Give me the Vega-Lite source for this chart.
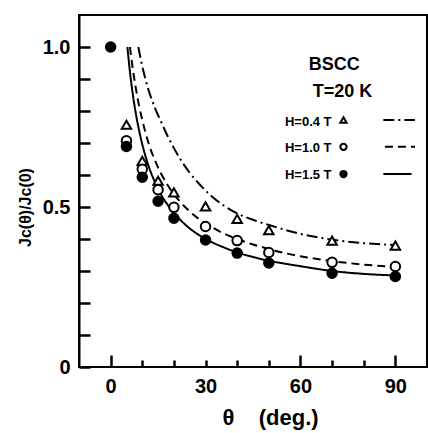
{
  "$schema": "https://vega.github.io/schema/vega-lite/v6.json",
  "width": 348,
  "height": 352,
  "autosize": {"type": "none"},
  "padding": {"left": 79, "top": 15, "right": 1, "bottom": 66},
  "background": "white",
  "config": {
    "view": {"stroke": "black", "strokeWidth": 2},
    "font": "Liberation Sans",
    "axis": {
      "grid": false,
      "ticks": true,
      "domainColor": "black",
      "domainWidth": 2,
      "tickColor": "black",
      "tickWidth": 2.5,
      "labelColor": "black",
      "titleColor": "black",
      "labelFont": "Liberation Sans",
      "titleFont": "Liberation Sans",
      "labelFontWeight": "bold",
      "titleFontWeight": "bold",
      "zindex": 1
    }
  },
  "resolve": {"axis": {"x": "independent"}},
  "datasets": {
    "curves": [
      {"x": 8.75, "y": 1.0, "s": "0.4"}, {"x": 10, "y": 0.94, "s": "0.4"}, {"x": 12, "y": 0.865, "s": "0.4"}, {"x": 14, "y": 0.81, "s": "0.4"}, {"x": 16, "y": 0.765, "s": "0.4"}, {"x": 18, "y": 0.722, "s": "0.4"}, {"x": 20, "y": 0.684, "s": "0.4"}, {"x": 22, "y": 0.65, "s": "0.4"}, {"x": 25, "y": 0.607, "s": "0.4"}, {"x": 28, "y": 0.572, "s": "0.4"}, {"x": 32, "y": 0.533, "s": "0.4"}, {"x": 36, "y": 0.503, "s": "0.4"}, {"x": 40, "y": 0.48, "s": "0.4"}, {"x": 45, "y": 0.46, "s": "0.4"}, {"x": 50, "y": 0.444, "s": "0.4"}, {"x": 55, "y": 0.429, "s": "0.4"}, {"x": 60, "y": 0.416, "s": "0.4"}, {"x": 70, "y": 0.398, "s": "0.4"}, {"x": 80, "y": 0.387, "s": "0.4"}, {"x": 90, "y": 0.381, "s": "0.4"},
      {"x": 6.1, "y": 1.0, "s": "1.0"}, {"x": 7, "y": 0.932, "s": "1.0"}, {"x": 8, "y": 0.869, "s": "1.0"}, {"x": 9, "y": 0.816, "s": "1.0"}, {"x": 10, "y": 0.772, "s": "1.0"}, {"x": 12, "y": 0.699, "s": "1.0"}, {"x": 14, "y": 0.646, "s": "1.0"}, {"x": 16, "y": 0.603, "s": "1.0"}, {"x": 18, "y": 0.569, "s": "1.0"}, {"x": 20, "y": 0.54, "s": "1.0"}, {"x": 22, "y": 0.516, "s": "1.0"}, {"x": 25, "y": 0.486, "s": "1.0"}, {"x": 28, "y": 0.462, "s": "1.0"}, {"x": 32, "y": 0.437, "s": "1.0"}, {"x": 36, "y": 0.416, "s": "1.0"}, {"x": 40, "y": 0.4, "s": "1.0"}, {"x": 45, "y": 0.383, "s": "1.0"}, {"x": 50, "y": 0.369, "s": "1.0"}, {"x": 55, "y": 0.356, "s": "1.0"}, {"x": 60, "y": 0.346, "s": "1.0"}, {"x": 70, "y": 0.331, "s": "1.0"}, {"x": 80, "y": 0.32, "s": "1.0"}, {"x": 90, "y": 0.313, "s": "1.0"},
      {"x": 5.3, "y": 1.0, "s": "1.5"}, {"x": 6, "y": 0.932, "s": "1.5"}, {"x": 7, "y": 0.853, "s": "1.5"}, {"x": 8, "y": 0.79, "s": "1.5"}, {"x": 9, "y": 0.739, "s": "1.5"}, {"x": 10, "y": 0.696, "s": "1.5"}, {"x": 12, "y": 0.628, "s": "1.5"}, {"x": 14, "y": 0.578, "s": "1.5"}, {"x": 16, "y": 0.538, "s": "1.5"}, {"x": 18, "y": 0.507, "s": "1.5"}, {"x": 20, "y": 0.481, "s": "1.5"}, {"x": 22, "y": 0.46, "s": "1.5"}, {"x": 25, "y": 0.433, "s": "1.5"}, {"x": 28, "y": 0.412, "s": "1.5"}, {"x": 32, "y": 0.39, "s": "1.5"}, {"x": 36, "y": 0.373, "s": "1.5"}, {"x": 40, "y": 0.358, "s": "1.5"}, {"x": 45, "y": 0.344, "s": "1.5"}, {"x": 50, "y": 0.332, "s": "1.5"}, {"x": 55, "y": 0.323, "s": "1.5"}, {"x": 60, "y": 0.315, "s": "1.5"}, {"x": 70, "y": 0.3, "s": "1.5"}, {"x": 80, "y": 0.291, "s": "1.5"}, {"x": 90, "y": 0.286, "s": "1.5"}
    ],
    "points": [
      {"x": 5, "y": 0.757, "s": "0.4"}, {"x": 10, "y": 0.644, "s": "0.4"}, {"x": 15, "y": 0.582, "s": "0.4"}, {"x": 20, "y": 0.546, "s": "0.4"}, {"x": 30, "y": 0.502, "s": "0.4"}, {"x": 40, "y": 0.463, "s": "0.4"}, {"x": 50, "y": 0.428, "s": "0.4"}, {"x": 70, "y": 0.395, "s": "0.4"}, {"x": 90, "y": 0.379, "s": "0.4"},
      {"x": 5, "y": 0.707, "s": "1.0"}, {"x": 10, "y": 0.618, "s": "1.0"}, {"x": 15, "y": 0.554, "s": "1.0"}, {"x": 20, "y": 0.499, "s": "1.0"}, {"x": 30, "y": 0.439, "s": "1.0"}, {"x": 40, "y": 0.395, "s": "1.0"}, {"x": 50, "y": 0.358, "s": "1.0"}, {"x": 70, "y": 0.327, "s": "1.0"}, {"x": 90, "y": 0.314, "s": "1.0"},
      {"x": 0, "y": 1.0, "s": "1.5"}, {"x": 5, "y": 0.689, "s": "1.5"}, {"x": 10, "y": 0.593, "s": "1.5"}, {"x": 15, "y": 0.518, "s": "1.5"}, {"x": 20, "y": 0.465, "s": "1.5"}, {"x": 30, "y": 0.397, "s": "1.5"}, {"x": 40, "y": 0.356, "s": "1.5"}, {"x": 50, "y": 0.325, "s": "1.5"}, {"x": 70, "y": 0.293, "s": "1.5"}, {"x": 90, "y": 0.283, "s": "1.5"}
    ],
    "legendSymbols": [
      {"x": 73.6, "y": 0.772, "s": "0.4"},
      {"x": 73.6, "y": 0.688, "s": "1.0"},
      {"x": 73.6, "y": 0.603, "s": "1.5"}
    ],
    "legendLines": [
      {"x": 86.2, "y": 0.772, "s": "0.4"}, {"x": 96.2, "y": 0.772, "s": "0.4"},
      {"x": 86.7, "y": 0.688, "s": "1.0"}, {"x": 96.2, "y": 0.688, "s": "1.0"},
      {"x": 86.2, "y": 0.603, "s": "1.5"}, {"x": 95.1, "y": 0.603, "s": "1.5"}
    ],
    "bigText": [
      {"x": 70.7, "y": 0.944, "text": "BSCC"},
      {"x": 73.3, "y": 0.859, "text": "T=20 K"}
    ],
    "smallText": [
      {"x": 55.1, "y": 0.766, "text": "H=0.4 T"},
      {"x": 55.1, "y": 0.684, "text": "H=1.0 T"},
      {"x": 55.1, "y": 0.601, "text": "H=1.5 T"}
    ]
  },
  "encoding": {
    "x": {
      "field": "x",
      "type": "quantitative",
      "scale": {"domain": [-10, 100], "nice": false, "zero": false},
      "axis": null
    },
    "y": {
      "field": "y",
      "type": "quantitative",
      "scale": {"domain": [0, 1.1], "nice": false, "zero": false},
      "axis": {
        "values": [0, 0.1, 0.2, 0.3, 0.4, 0.5, 0.6, 0.7, 0.8, 0.9, 1],
        "labelExpr": "datum.value === 0 ? '0' : (datum.value === 0.5 ? '0.5' : (datum.value === 1 ? '1.0' : ''))",
        "tickSize": -11,
        "labelPadding": 20,
        "labelFontSize": 20,
        "title": "Jc(θ)/Jc(0)",
        "titleColor": "#000000",
        "titleFontSize": 16,
        "titleX": -46,
        "titleY": 192,
        "titleBaseline": "bottom",
        "titleAlign": "center"
      }
    }
  },
  "layer": [
    {
      "data": {"name": "curves"},
      "mark": {"type": "line", "color": "black", "strokeWidth": 2, "interpolate": "monotone"},
      "encoding": {
        "x": {
          "field": "x",
          "type": "quantitative",
          "scale": {"domain": [-10, 100], "nice": false, "zero": false},
          "axis": {
            "orient": "bottom",
            "values": [0, 60, 90],
            "offset": -12,
            "domain": false,
            "ticks": true,
            "tickSize": 12,
            "tickColor": "black",
            "tickOpacity": 1,
            "labelPadding": 9,
            "labelFontSize": 20,
            "labelBaseline": "top",
            "title": "θ\u00a0\u00a0\u00a0\u00a0(deg.)",
            "titleFontSize": 22,
            "titleX": 191,
            "titleY": 69,
            "titleBaseline": "alphabetic"
          }
        },
        "detail": {"field": "s"},
        "strokeDash": {"field": "s", "type": "nominal", "scale": {"domain": ["0.4", "1.0", "1.5"], "range": [[11, 4, 2, 4], [8, 5], [1, 0]]}, "legend": null}
      }
    },
    {
      "data": {"name": "legendLines"},
      "mark": {"type": "line", "color": "black", "strokeWidth": 2},
      "encoding": {
        "detail": {"field": "s"},
        "strokeDash": {"field": "s", "type": "nominal", "scale": {"domain": ["0.4", "1.0", "1.5"], "range": [[11, 4, 2, 4], [8, 5], [1, 0]]}, "legend": null}
      }
    },
    {
      "data": {"name": "points"},
      "mark": {"type": "point", "filled": true, "stroke": "black", "strokeWidth": 2, "size": 90, "opacity": 1},
      "encoding": {
        "x": {
          "field": "x",
          "type": "quantitative",
          "scale": {"domain": [-10, 100], "nice": false, "zero": false},
          "axis": {
            "orient": "bottom",
            "values": [10, 20, 30, 40, 50, 70, 80],
            "offset": -7,
            "domain": false,
            "ticks": true,
            "tickSize": 7,
            "tickColor": "black",
            "tickOpacity": 1,
            "labelExpr": "datum.value === 30 ? '30' : ''",
            "labelPadding": 9,
            "labelFontSize": 20,
            "labelBaseline": "top",
            "title": null
          }
        },
        "shape": {"field": "s", "type": "nominal", "scale": {"domain": ["0.4", "1.0", "1.5"], "range": ["triangle-up", "circle", "circle"]}, "legend": null},
        "fill": {"field": "s", "type": "nominal", "scale": {"domain": ["0.4", "1.0", "1.5"], "range": ["white", "white", "black"]}, "legend": null}
      }
    },
    {
      "data": {"name": "legendSymbols"},
      "mark": {"type": "point", "filled": true, "stroke": "black", "strokeWidth": 2, "size": 40, "opacity": 1},
      "encoding": {
        "shape": {"field": "s", "type": "nominal", "scale": {"domain": ["0.4", "1.0", "1.5"], "range": ["triangle-up", "circle", "circle"]}, "legend": null},
        "fill": {"field": "s", "type": "nominal", "scale": {"domain": ["0.4", "1.0", "1.5"], "range": ["white", "white", "black"]}, "legend": null}
      }
    },
    {
      "data": {"name": "bigText"},
      "mark": {"type": "text", "fontSize": 18, "fontWeight": "bold", "align": "center", "baseline": "middle", "color": "black", "font": "Liberation Sans"},
      "encoding": {"text": {"field": "text"}}
    },
    {
      "data": {"name": "smallText"},
      "mark": {"type": "text", "fontSize": 13, "fontWeight": "bold", "align": "left", "baseline": "middle", "color": "black", "font": "Liberation Sans"},
      "encoding": {"text": {"field": "text"}}
    }
  ]
}
